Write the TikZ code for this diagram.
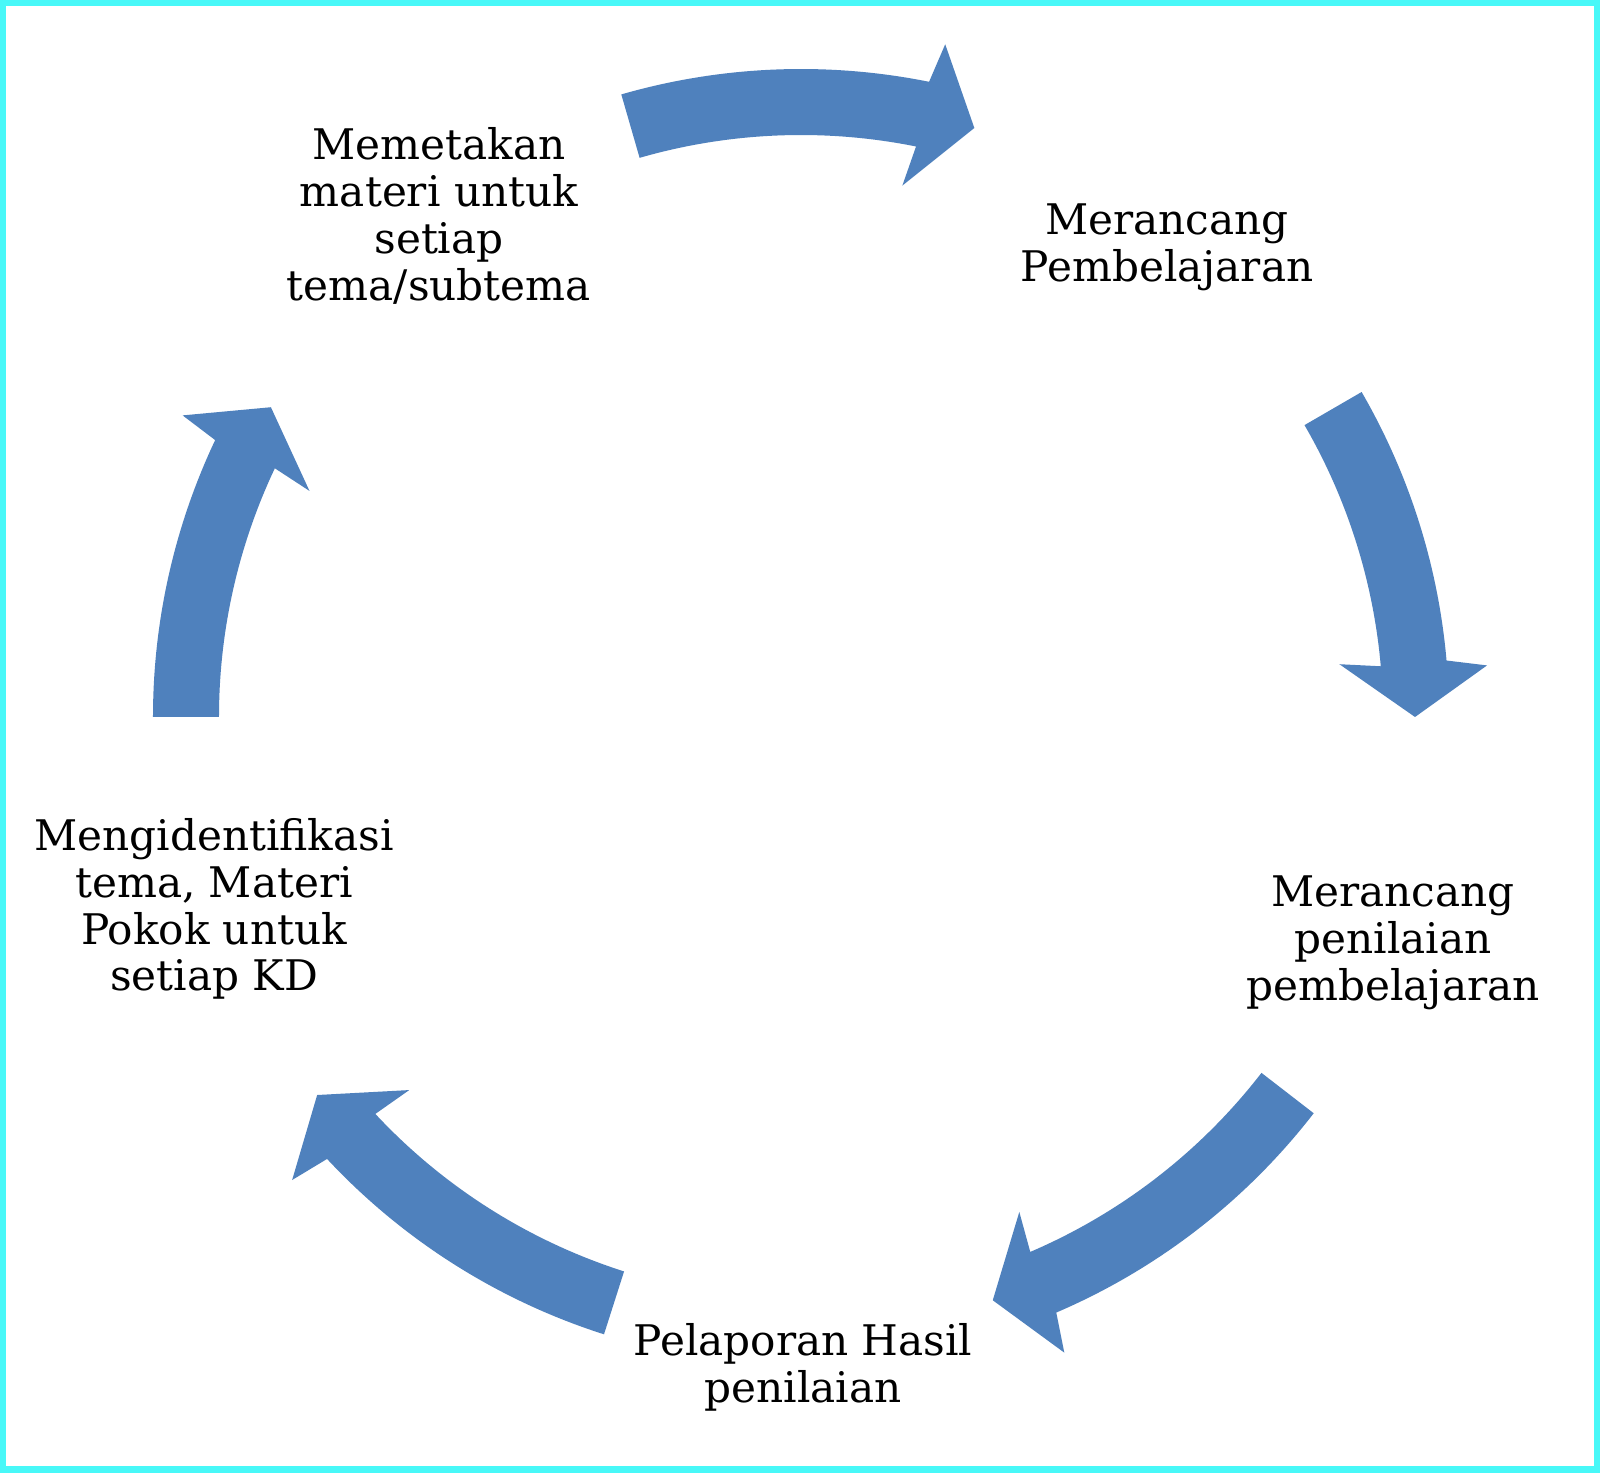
\documentclass[tikz,border=0pt]{standalone}
\usepackage{fontspec}
\setmainfont{DejaVu Serif}
\definecolor{cycleblue}{RGB}{79,129,189}
\definecolor{framecyan}{RGB}{72,248,248}

\begin{document}
\begin{tikzpicture}[
    steptext/.style={align=center, font=\fontsize{12}{13.3}\selectfont, inner sep=0pt},
    cyclearrow/.style={fill=cycleblue, draw=none}
  ]
    \coordinate (O) at (0, 0);
    % frame
    \useasboundingbox (-8.01,-7.56) rectangle (7.99,7.17);
    \fill[framecyan] (-8.01,-7.56) rectangle (7.99,7.17);
    \fill[white] (-7.95,-7.49) rectangle (7.93,7.11);
    % curved arrows round the cycle
    \fill[cyclearrow] (106.1:6.48) arc (106.1:78.6:6.48) -- (77.9:6.88) -- (73.6:6.14)
        -- (79.2:5.41) -- (78.6:5.82) arc (78.6:106.1:5.82) -- cycle;
    \fill[cyclearrow] (30.1:6.48) arc (30.1:5:6.48) -- (4.3:6.88) -- (0:6.14)
        -- (5.6:5.41) -- (5:5.82) arc (5:30.1:5.82) -- cycle;
    \fill[cyclearrow] (-37.7:6.48) arc (-37.7:-66.8:6.48) -- (-67.5:6.88) -- (-71.8:6.14)
        -- (-66.2:5.41) -- (-66.8:5.82) arc (-66.8:-37.7:5.82) -- cycle;
    \fill[cyclearrow] (-107.7:6.48) arc (-107.7:-137:6.48) -- (-137.7:6.88) -- (-142:6.14)
        -- (-136.4:5.41) -- (-137:5.82) arc (-137:-107.7:5.82) -- cycle;
    \fill[cyclearrow] (180:6.48) arc (180:154.7:6.48) -- (154:6.88) -- (149.7:6.14)
        -- (155.3:5.41) -- (154.7:5.82) arc (154.7:180:5.82) -- cycle;
    % steps
    \node[steptext] (memetakan) at (-3.62, 5.01) {Memetakan\\materi untuk\\setiap\\tema/subtema};
    \node[steptext] (rancangbelajar) at (3.66, 4.70) {Merancang\\Pembelajaran};
    \node[steptext] (rancangnilai) at (5.92, -2.26) {Merancang\\penilaian\\pembelajaran};
    \node[steptext] (pelaporan) at (0.02, -6.50) {Pelaporan Hasil\\penilaian};
    \node[steptext] (identifikasi) at (-5.87, -1.92) {Mengidentifikasi\\tema, Materi\\Pokok untuk\\setiap KD};
\end{tikzpicture}
\end{document}
